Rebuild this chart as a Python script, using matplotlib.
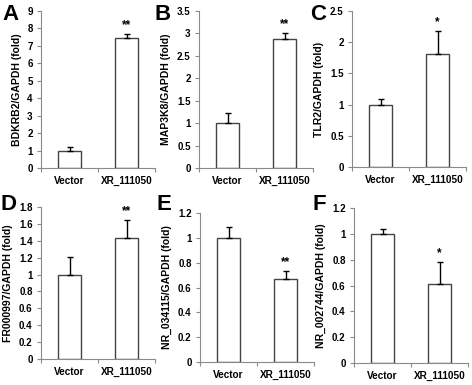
import numpy as np
import matplotlib.pyplot as plt

plt.rcParams['font.family'] = ['Liberation Sans', 'DejaVu Sans']
plt.rcParams['font.weight'] = 'bold'
plt.rcParams['axes.labelweight'] = 'bold'

groups = ['Vector', 'XR_111050']

# one entry per panel
letters = ['A', 'B', 'C', 'D', 'E', 'F']
ylabels = ['BDKRB2/GAPDH (fold)', 'MAP3K8/GAPDH (fold)', 'TLR2/GAPDH (fold)',
           'FR000997/GAPDH (fold)', 'NR_034115/GAPDH (fold)', 'NR_002744/GAPDH (fold)']
means = [[1.0, 7.48], [1.0, 2.87], [1.0, 1.81],
         [1.0, 1.43], [1.0, 0.67], [1.0, 0.61]]
errs = [[0.2, 0.22], [0.23, 0.14], [0.09, 0.37],
        [0.21, 0.22], [0.09, 0.06], [0.04, 0.17]]
stars = ['**', '**', '*', '**', '**', '*']
ymax = [9, 3.5, 2.5, 1.8, 1.2, 1.2]
ystep = [1, 0.5, 0.5, 0.2, 0.2, 0.2]

W, H = 472, 385
# axes boxes in pixels: left, right, top, bottom
boxes = [(41, 155, 11, 168), (199, 313, 11, 168), (352, 466, 11, 167),
         (41, 155, 207, 359), (200, 314, 213, 362), (354, 468, 208, 363)]
letter_pos = [(2, 4), (155, 4), (310, 4), (1, 194), (157, 194), (312, 194)]

fig = plt.figure(figsize=(W / 100, H / 100), dpi=100)
axis_col = '#8a8a8a'

for i in range(6):
    l, r, t, b = boxes[i]
    ax = fig.add_axes([l / W, 1 - b / H, (r - l) / W, (b - t) / H])
    x = np.arange(len(groups))
    ax.bar(x, means[i], width=0.4, color='white', edgecolor='#444444', linewidth=1.0)
    ax.errorbar(x, means[i], yerr=[np.zeros(2), errs[i]], fmt='none',
                ecolor='black', elinewidth=1.0, capsize=2.5, capthick=1.0)
    ax.annotate(stars[i], (1, means[i][1] + errs[i][1]), xytext=(0, 2),
                textcoords='offset points', ha='center', va='bottom',
                fontsize=8.5, fontweight='bold')
    ax.set_xlim(-0.5, 1.5)
    ax.set_ylim(0, ymax[i])
    ax.set_yticks(np.round(np.arange(0, ymax[i] + 1e-9, ystep[i]), 2))
    ax.set_yticklabels(['%g' % v for v in ax.get_yticks()], fontsize=7, fontweight='bold')
    ax.set_xticks(x)
    ax.set_xticklabels(groups, fontsize=7.2, fontweight='bold')
    ax.set_xticks([-0.5, 0.5, 1.5], minor=True)
    ax.tick_params(axis='x', which='major', length=0, pad=6)
    ax.tick_params(axis='x', which='minor', length=3, color=axis_col, width=0.8)
    ax.tick_params(axis='y', length=3, color=axis_col, width=0.8, pad=3)
    ax.set_ylabel(ylabels[i], fontsize=7.5, fontweight='bold', labelpad=4)
    for s in ['top', 'right']:
        ax.spines[s].set_visible(False)
    for s in ['left', 'bottom']:
        ax.spines[s].set_color(axis_col)
        ax.spines[s].set_linewidth(0.8)
    fig.text(letter_pos[i][0] / W, 1 - letter_pos[i][1] / H, letters[i],
             fontsize=16, fontweight='bold', ha='left', va='top')

fig.savefig('out.png', dpi=100)
